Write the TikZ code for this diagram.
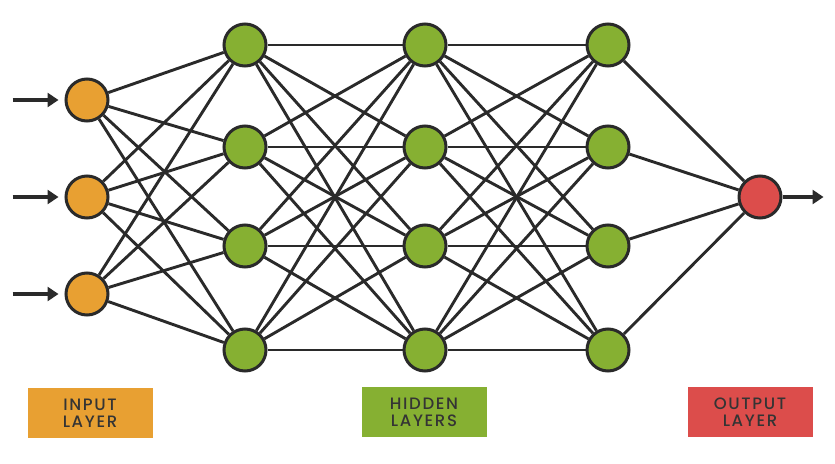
\documentclass[tikz,border=0pt]{standalone}
\usepackage{fontspec}
\setmainfont{Poppins}
\IfFontExistsTF{Poppins Medium}
  {\newfontfamily\labelfont{Poppins Medium}}
  {\newfontfamily\labelfont{Poppins}[FakeBold=0.6]}
\usetikzlibrary{arrows.meta}
\definecolor{inorange}{RGB}{232,160,50}
\definecolor{hidgreen}{RGB}{134,176,50}
\definecolor{outred}{RGB}{220,77,75}
\definecolor{linegray}{RGB}{42,42,42}
\definecolor{labelgray}{RGB}{52,52,52}
\begin{document}
\begin{tikzpicture}[x=1pt,y=-1pt,
  neuron/.style={circle,draw=linegray,line width=3pt,minimum size=42pt,inner sep=0pt},
  link/.style={draw=linegray,line width=2.9pt},
  signal/.style={draw=linegray,line width=4.5pt,-{Triangle[length=11pt,width=14pt]}},
  legend/.style={minimum width=125pt,minimum height=50pt,inner sep=0pt,align=center,
    text=labelgray,font=\labelfont\fontsize{16.5}{17}\selectfont\addfontfeatures{LetterSpace=10}}]
\useasboundingbox (0,0) rectangle (835,463);
% input layer
\node[neuron,fill=inorange] (in1) at (87,100) {};
\node[neuron,fill=inorange] (in2) at (87,197) {};
\node[neuron,fill=inorange] (in3) at (87,294) {};
% hidden layers
\foreach \l/\x in {1/245,2/425,3/608}
  \foreach \r/\y in {1/45,2/147,3/246,4/350}
    \node[neuron,fill=hidgreen] (h\l\r) at (\x,\y) {};
% output layer
\node[neuron,fill=outred] (out) at (760,197) {};
% connections
\foreach \i in {1,2,3}
  \foreach \j in {1,2,3,4}
    \draw[link] (in\i) -- (h1\j);
\foreach \i in {1,2,3,4}
  \foreach \j in {1,2,3,4} {
    \draw[link] (h1\i) -- (h2\j);
    \draw[link] (h2\i) -- (h3\j);
  }
\foreach \j in {1,2,3,4}
  \draw[link] (h3\j) -- (out);
% signals in and out
\foreach \i in {1,2,3}
  \draw[signal] ([xshift=-52pt]in\i.west) -- ([xshift=-6pt]in\i.west);
\draw[signal] (out.east) -- ([xshift=41pt]out.east);
% legend boxes
\node[legend,fill=inorange] (inlabel) at (90,413) {INPUT\\LAYER};
\node[legend,fill=hidgreen] (hidlabel) at (424,412) {HIDDEN\\LAYERS};
\node[legend,fill=outred] (outlabel) at (750,412) {OUTPUT\\LAYER};
\end{tikzpicture}
\end{document}
